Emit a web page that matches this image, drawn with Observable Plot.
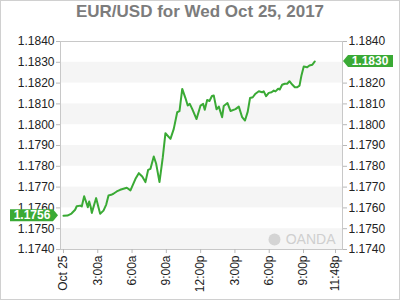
<!DOCTYPE html>
<html><head><meta charset="utf-8">
<script src="https://cdn.jsdelivr.net/npm/d3@7"></script>
<script src="https://cdn.jsdelivr.net/npm/@observablehq/plot@0.6"></script>
<style>
body{margin:0;background:#fff;}
#wrap{position:relative;width:400px;height:300px;overflow:hidden;font-family:"Liberation Sans",Arial,sans-serif;}
#title{position:absolute;top:2px;left:0;width:400px;text-align:center;font-size:17px;line-height:20px;font-weight:bold;color:#7c7c7c;}
#border{position:absolute;left:0;top:0;width:398px;height:298px;border:1px solid #d0d0d0;pointer-events:none;}
#chart{position:absolute;left:0;top:0;}
</style></head><body>
<div id="wrap"><div id="chart"></div><div id="title">EUR/USD for Wed Oct 25, 2017</div><div id="border"></div></div>
<script>
// hours since midnight Oct 25
const hours = [0.00,0.35,0.70,1.02,1.16,1.46,1.60,1.81,1.99,2.13,2.25,2.39,2.48,2.71,2.86,3.06,3.21,3.50,3.74,3.94,
  4.17,4.37,4.66,4.96,5.25,5.54,5.86,6.30,6.59,6.89,7.17,7.41,7.61,7.90,8.11,8.40,8.69,8.92,9.36,9.65,
  9.95,10.15,10.39,10.67,10.87,11.05,11.26,11.64,11.99,12.22,12.36,12.57,12.77,12.99,13.15,13.39,13.59,13.88,14.02,14.35,
  14.61,15.05,15.34,15.63,15.88,16.12,16.32,16.56,16.80,17.09,17.38,17.52,17.73,17.96,18.20,18.40,18.55,18.78,18.92,19.13,
  19.36,19.57,19.77,20.01,20.24,20.45,20.65,20.82,21.02,21.32,21.52,21.76,21.99];
const prices = [1.17562,1.17563,1.17573,1.17591,1.17608,1.17611,1.17607,1.17656,1.17627,1.17603,1.17631,1.17603,1.17576,1.17620,1.17647,1.17603,1.17572,1.17587,1.17616,1.17660,
  1.17663,1.17668,1.17679,1.17687,1.17692,1.17697,1.17684,1.17740,1.17767,1.17751,1.17724,1.17783,1.17788,1.17847,1.17812,1.17724,1.17844,1.17959,1.17932,1.17980,
  1.18060,1.18065,1.18172,1.18128,1.18092,1.18100,1.18076,1.18027,1.18092,1.18100,1.18072,1.18119,1.18114,1.18138,1.18140,1.18074,1.18087,1.18036,1.18090,1.18104,
  1.18066,1.18075,1.18087,1.18036,1.18020,1.18063,1.18128,1.18132,1.18149,1.18161,1.18156,1.18160,1.18137,1.18153,1.18156,1.18164,1.18160,1.18173,1.18169,1.18192,
  1.18197,1.18197,1.18209,1.18193,1.18180,1.18180,1.18188,1.18237,1.18280,1.18276,1.18285,1.18288,1.18304];
const yTicks = [1.1740,1.1750,1.1760,1.1770,1.1780,1.1790,1.1800,1.1810,1.1820,1.1830,1.1840];
const yTicksRight = [1.1740,1.1750,1.1760,1.1770,1.1780,1.1790,1.1800,1.1810,1.1820,1.1840];
const xTickHours = [0,3,6,9,12,15,18,21,23.8];
const xTickLabels = ["Oct 25","3:00a","6:00a","9:00a","12:00p","3:00p","6:00p","9:00p","11:48p"];
const bandLow = [1.1740,1.1760,1.1780,1.1800,1.1820];
const openLabel = "1.1756";
const lastLabel = "1.1830";

const green = "#3aaa35";
const data = hours.map((h, i) => ({h, p: prices[i]}));
const bands = bandLow.map(b => ({y1: b, y2: b + 0.001}));

const plot = Plot.plot({
  width: 400, height: 300,
  marginTop: 41, marginBottom: 51, marginLeft: 60, marginRight: 58,
  style: {fontFamily: '"Liberation Sans", Arial, sans-serif', fontSize: "12px", color: "#222", background: "transparent"},
  x: {domain: [-0.26, 24.41]},
  y: {domain: [1.174, 1.184]},
  marks: [
    Plot.rect(bands, {y1: "y1", y2: "y2", fill: "#f5f5f5"}),
    Plot.frame({stroke: "#c8c8c8"}),
    Plot.axisY({anchor: "left", ticks: yTicks, tickFormat: d => d.toFixed(4), tickSize: 4, tickPadding: 2, stroke: "#b8b8b8", fill: "#222", fontSize: 12, label: null}),
    Plot.axisY({anchor: "right", ticks: yTicksRight, tickFormat: d => d.toFixed(4), tickSize: 4, tickPadding: 2, stroke: "#b8b8b8", fill: "#222", fontSize: 12, label: null}),
    Plot.axisX({anchor: "bottom", ticks: xTickHours, tickFormat: d => xTickLabels[xTickHours.indexOf(d)], tickRotate: -90, tickSize: 4, tickPadding: 2, stroke: "#b8b8b8", fill: "#222", fontSize: 12, label: null}),
    Plot.text(["OANDA"], {frameAnchor: "bottom-right", dx: -7, dy: -6, fill: "#cfcfcf", fontSize: 14}),
    Plot.dot([0], {frameAnchor: "bottom-right", dx: -68, dy: -10, r: 6, fill: "#d4d4d4"}),
    Plot.line(data, {x: "h", y: "p", stroke: green, strokeWidth: 2})
  ]
});
document.getElementById("chart").appendChild(plot);

const ys = plot.scale("y");
const svg = d3.select(plot);
const y0 = ys.apply(prices[0]);
const y1 = ys.apply(prices[prices.length - 1]);
const g = svg.append("g");
g.append("polygon").attr("fill", green)
  .attr("points", [[10, y0 - 6], [53, y0 - 6], [58, y0], [53, y0 + 6], [10, y0 + 6]].map(p => p.join(",")).join(" "));
g.append("text").attr("x", 32).attr("y", y0 + 4).attr("text-anchor", "middle").attr("fill", "#fff")
  .attr("font-weight", "bold").attr("font-size", 12).attr("font-family", '"Liberation Sans", Arial, sans-serif').text(openLabel);
g.append("polygon").attr("fill", green)
  .attr("points", [[343, y1], [348, y1 - 6], [393, y1 - 6], [393, y1 + 6], [348, y1 + 6]].map(p => p.join(",")).join(" "));
g.append("text").attr("x", 370).attr("y", y1 + 4).attr("text-anchor", "middle").attr("fill", "#fff")
  .attr("font-weight", "bold").attr("font-size", 12).attr("font-family", '"Liberation Sans", Arial, sans-serif').text(lastLabel);
</script>
</body></html>
